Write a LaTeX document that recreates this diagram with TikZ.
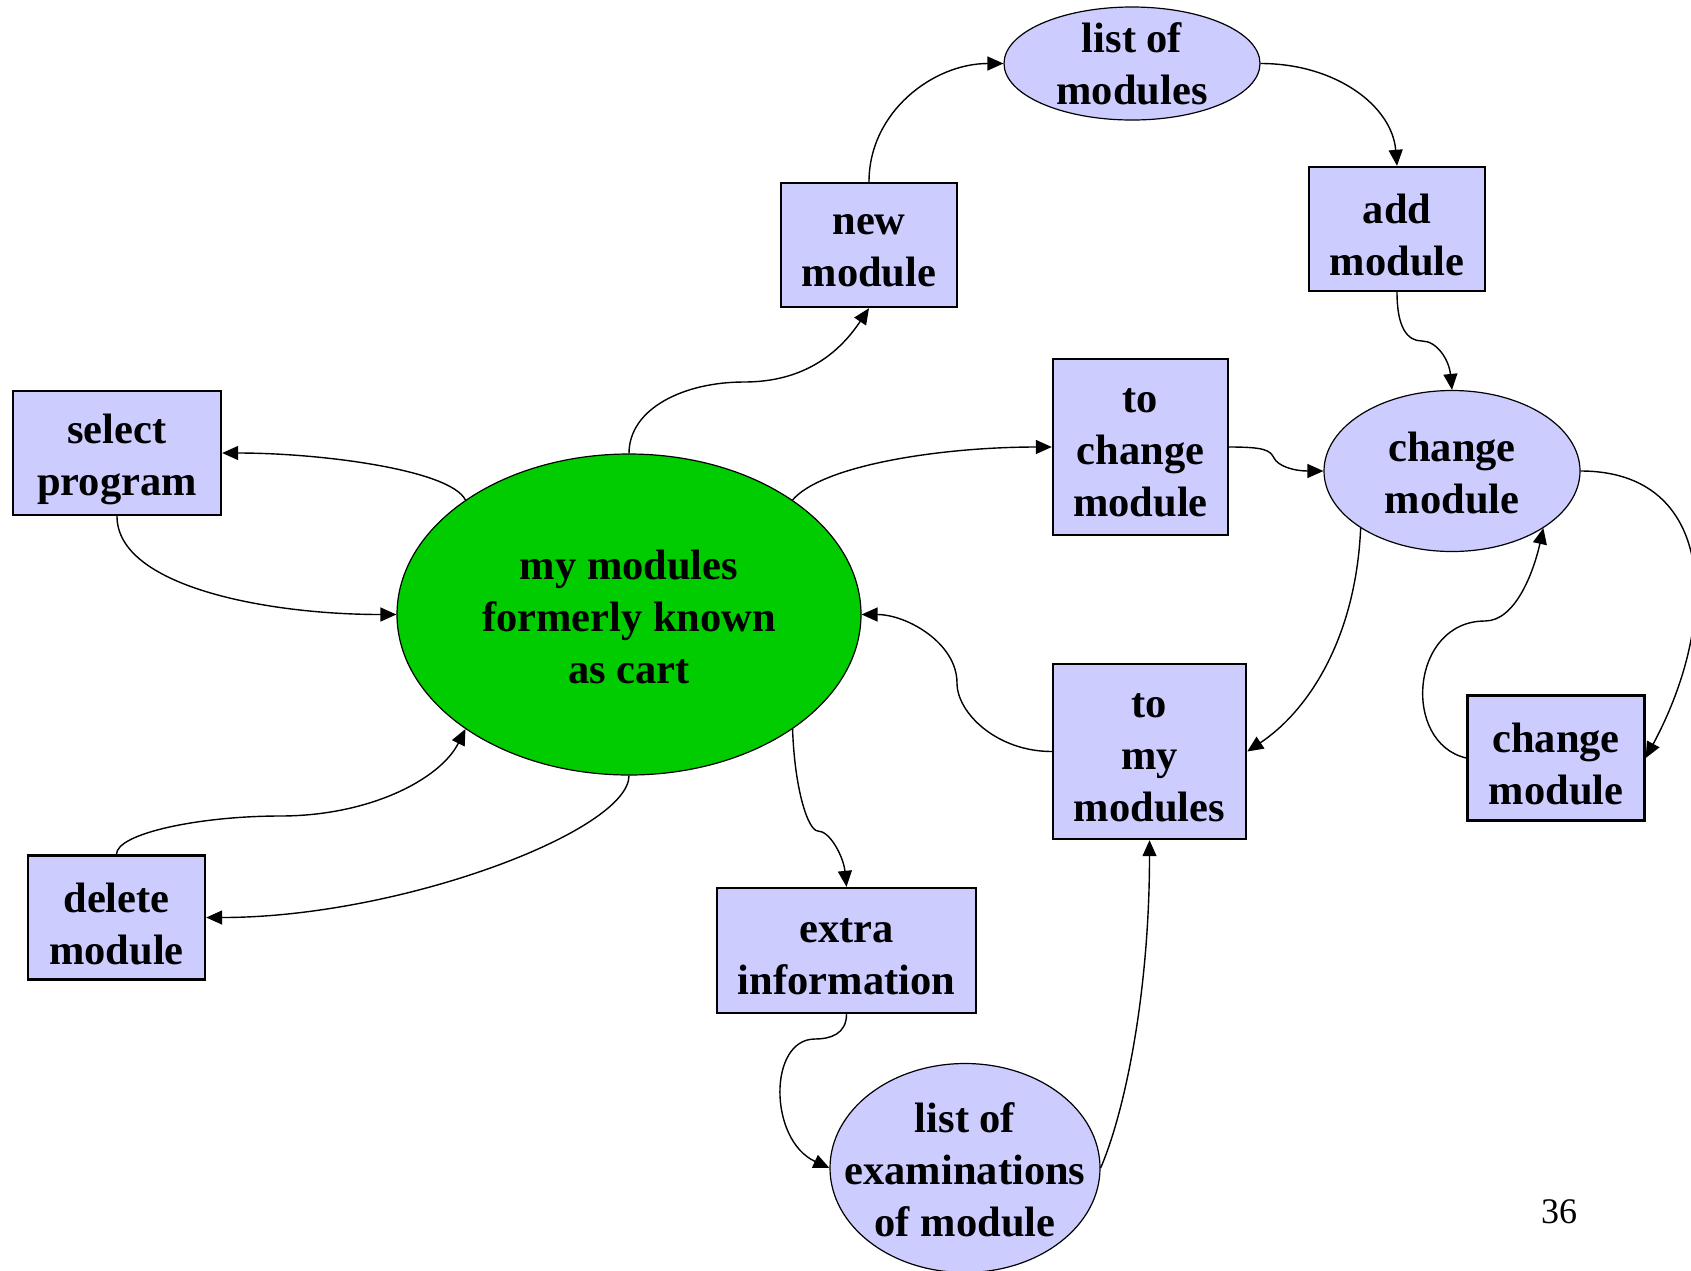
\documentclass[tikz,border=0pt]{standalone}
\usepackage{fontspec}
\setmainfont{Liberation Serif}
\usetikzlibrary{arrows.meta,shapes.geometric}
\definecolor{boxfill}{HTML}{CCCCFF}
\definecolor{cartgreen}{HTML}{00CC00}
\begin{document}
\begin{tikzpicture}[x=0.5pt,y=-0.5pt,
  lbl/.style={font=\fontsize{21.25}{26}\selectfont\bfseries, align=center, inner sep=0pt, yshift=-3pt},
  ovallbl/.style={lbl, yshift=2pt},
  boxnode/.style={draw, line width=1.2pt, fill=boxfill, rectangle, inner sep=0pt},
  ovalnode/.style={draw, line width=0.6pt, fill=boxfill, ellipse, inner sep=0pt},
  link/.style={line width=0.7pt, -{Triangle[length=8pt,width=7pt]}}
]
\useasboundingbox (0,0) rectangle (1691,1270);

% central state
\node (c) [ovalnode, fill=cartgreen, minimum width=232pt, minimum height=160.5pt] at (629,614.5) {};
\node [ovallbl] at (c) {my modules\\formerly known\\as cart};

% rectangular actions
\node (sp)  [boxnode, minimum width=104pt,  minimum height=62pt]   at (117,453)     {};
\node (nm)  [boxnode, minimum width=88pt,   minimum height=62pt]   at (869,245)     {};
\node (am)  [boxnode, minimum width=88pt,   minimum height=62pt]   at (1397,229)    {};
\node (tcm) [boxnode, minimum width=87.5pt, minimum height=88pt]   at (1140.5,447)  {};
\node (tmm) [boxnode, minimum width=96.5pt, minimum height=87.5pt] at (1149.5,751.5){};
\node (cmb) [boxnode, minimum width=88.5pt, minimum height=62.5pt] at (1556,758)    {};
\node (dm)  [boxnode, minimum width=88.5pt, minimum height=62pt]   at (116.5,917.5) {};
\node (ei)  [boxnode, minimum width=129.5pt,minimum height=62.5pt] at (846.5,950.5) {};

\node [lbl] at (sp)  {select\\program};
\node [lbl] at (nm)  {new\\module};
\node [lbl] at (am)  {add\\module};
\node [lbl] at (tcm) {to\\change\\module};
\node [lbl] at (tmm) {to\\my\\modules};
\node [lbl] at (cmb) {change\\module};
\node [lbl] at (dm)  {delete\\module};
\node [lbl] at (ei)  {extra\\information};

% oval states
\node (lm) [ovalnode, minimum width=128pt, minimum height=56.5pt]  at (1132,63.5) {};
\node (cm) [ovalnode, minimum width=128pt, minimum height=80.5pt]  at (1452,471)  {};
\node (le) [ovalnode, minimum width=135pt, minimum height=104.5pt] at (965,1168)  {};
\node [ovallbl, yshift=1pt] at (lm) {list of\\modules};
\node [ovallbl] at (cm) {change\\module};
\node [ovallbl] at (le) {list of\\examinations\\of module};

% page number
\node (pg) [font=\fontsize{18}{20}\selectfont, inner sep=0pt] at (1559,1212) {36};

% transitions
\draw[link] (c.north) .. controls +(0,-45) and +(-60,0) .. (744,382)
                      .. controls +(60,0) and +(-30,45) .. (nm.south);
\draw[link] (nm.north) .. controls +(0,-70) and +(-70,0) .. (lm.west);
\draw[link] (lm.east) .. controls +(75,0) and +(-5,-60) .. (am.north);
\draw[link] (am.south) .. controls +(0,35) and +(-15,0) .. (1422,341)
                       .. controls +(15,0) and +(-3,-30) .. (cm.north);
\draw[link] (c.35) .. controls +(30,-35) and +(-110,0) .. (tcm.west);
\draw[link] (tcm.east) .. controls +(35,0) and +(-4,-8) .. (1274,458)
                       .. controls +(4,8) and +(-30,0) .. (cm.west);
\draw[link] (cm.-148) .. controls +(-5,112) and +(60,-40) .. (tmm.east);
\draw[link] (cm.east) .. controls +(135,0) and +(75,-140) .. (cmb.east);
\draw[link] (cmb.west) .. controls +(-65,-15) and +(-75,0) .. (1485,621)
                       .. controls +(30,0) and +(-10,45) .. (cm.-32);
\draw[link] (tmm.west) .. controls +(-55,0) and +(0,30) .. (957,683)
                       .. controls +(0,-40) and +(45,0) .. (c.east);
\draw[link] (le.east) .. controls +(25,-58) and +(0,150) .. (tmm.south);
\draw[link] (c.-35) .. controls +(2,60) and +(-10,0) .. (818,831)
                    .. controls +(12,0) and +(-3,-30) .. (ei.north);
\draw[link] (ei.south) .. controls +(0,20) and +(15,0) .. (815,1039)
                       .. controls +(-47,0) and +(-61,-28) .. (le.west);
\draw[link] (c.145) .. controls +(-15,-30) and +(100,0) .. (sp.east);
\draw[link] (sp.south) .. controls +(0,70) and +(-130,0) .. (c.west);
\draw[link] (dm.north) .. controls +(0,-21) and +(-80,0) .. (280,816)
                       .. controls +(90,0) and +(-25,50) .. (c.-145);
\draw[link] (c.south) .. controls +(0,55) and +(195,0) .. (dm.east);
\end{tikzpicture}
\end{document}
